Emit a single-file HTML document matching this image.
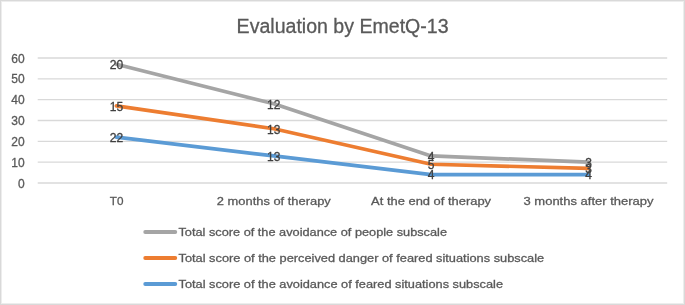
<!DOCTYPE html>
<html><head><meta charset="utf-8"><style>
html,body{margin:0;padding:0;background:#fff;}
body{width:685px;height:305px;overflow:hidden;}
svg{display:block;font-family:"Liberation Sans",sans-serif;will-change:transform;}
</style></head><body>
<svg width="685" height="305" viewBox="0 0 685 305">
<rect x="0" y="0" width="685" height="305" fill="#fff"/>
<!-- border -->
<rect x="0.5" y="0.5" width="684" height="304" fill="none" stroke="#d9d9d9" stroke-width="1"/>
<rect x="1.5" y="1.5" width="682" height="302" fill="none" stroke="#ededed" stroke-width="1"/>
<!-- title -->
<text x="342.6" y="33" font-size="20" fill="#595959" stroke="#595959" stroke-width="0.3" text-anchor="middle" textLength="212" lengthAdjust="spacingAndGlyphs">Evaluation by EmetQ-13</text>
<!-- gridlines -->
<g stroke="#d9d9d9" stroke-width="1.4">
<line x1="37.7" x2="667.2" y1="58.00" y2="58.00"/>
<line x1="37.7" x2="667.2" y1="78.83" y2="78.83"/>
<line x1="37.7" x2="667.2" y1="99.67" y2="99.67"/>
<line x1="37.7" x2="667.2" y1="120.50" y2="120.50"/>
<line x1="37.7" x2="667.2" y1="141.33" y2="141.33"/>
<line x1="37.7" x2="667.2" y1="162.17" y2="162.17"/>
<line x1="37.7" x2="667.2" y1="183.00" y2="183.00"/>
</g>
<!-- y labels -->
<g font-size="12" fill="#595959" stroke="#595959" stroke-width="0.3" text-anchor="end">
<text x="24.7" y="62.6">60</text>
<text x="24.7" y="83.4">50</text>
<text x="24.7" y="104.3">40</text>
<text x="24.7" y="125.1">30</text>
<text x="24.7" y="146">20</text>
<text x="24.7" y="166.8">10</text>
<text x="24.7" y="187.7">0</text>
</g>
<!-- x labels -->
<g font-size="11.7" fill="#595959" stroke="#595959" stroke-width="0.3" text-anchor="middle">
<text x="116.6" y="205.2">T0</text>
<text x="273.8" y="205.2" textLength="114" lengthAdjust="spacingAndGlyphs">2 months of therapy</text>
<text x="431.1" y="205.2" textLength="120" lengthAdjust="spacingAndGlyphs">At the end of therapy</text>
<text x="588.5" y="205.2" textLength="130" lengthAdjust="spacingAndGlyphs">3 months after therapy</text>
</g>
<!-- series -->
<g fill="none" stroke-width="3.7" stroke-linejoin="round" stroke-linecap="round">
<polyline stroke="#5b9bd5" points="116.4,137.13 273.8,155.9 431.1,174.66 588.5,174.66"/>
<polyline stroke="#ed7d31" points="116.4,105.85 273.8,128.79 431.1,164.24 588.5,168.4"/>
<polyline stroke="#a5a5a5" points="116.4,64.2 273.8,103.8 431.1,155.9 588.5,162.15"/>
</g>
<!-- data labels -->
<g font-size="12" fill="#404040" stroke="#404040" stroke-width="0.3" text-anchor="middle">
<text x="116.4" y="69">20</text>
<text x="273.8" y="108.6">12</text>
<text x="431.1" y="160.7">4</text>
<text x="588.5" y="166.9">3</text>
<text x="116.4" y="110.6">15</text>
<text x="273.8" y="133.6">13</text>
<text x="431.1" y="169">5</text>
<text x="588.5" y="173.2">3</text>
<text x="116.4" y="141.9">22</text>
<text x="273.8" y="160.7">13</text>
<text x="431.1" y="179.4">4</text>
<text x="588.5" y="179.4">4</text>
</g>
<!-- legend -->
<g stroke-width="3.8" stroke-linecap="round">
<line x1="145.2" x2="175.3" y1="232" y2="232" stroke="#a5a5a5"/>
<line x1="145.2" x2="175.3" y1="258" y2="258" stroke="#ed7d31"/>
<line x1="145.2" x2="175.3" y1="284" y2="284" stroke="#5b9bd5"/>
</g>
<g font-size="11.7" fill="#595959" stroke="#595959" stroke-width="0.3">
<text x="178.5" y="236.2" textLength="268.5" lengthAdjust="spacingAndGlyphs">Total score of the avoidance of people subscale</text>
<text x="178.5" y="262.3" textLength="365.7" lengthAdjust="spacingAndGlyphs">Total score of the perceived danger of feared situations subscale</text>
<text x="178.5" y="288.2" textLength="324.5" lengthAdjust="spacingAndGlyphs">Total score of the avoidance of feared situations subscale</text>
</g>
</svg>
</body></html>
